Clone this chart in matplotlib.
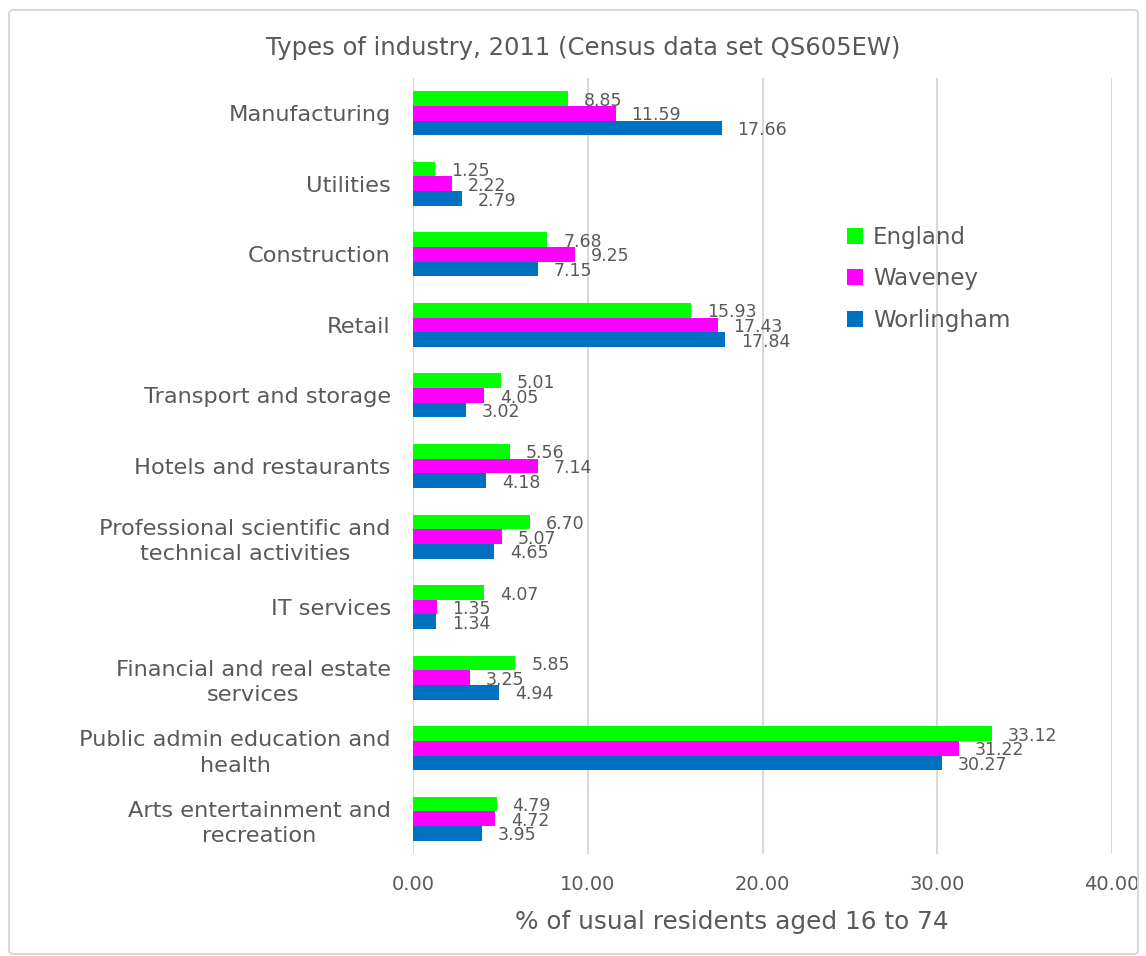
import numpy as np
import matplotlib
matplotlib.use("Agg")
import matplotlib.pyplot as plt
from matplotlib.patches import FancyBboxPatch

categories = ["Manufacturing", "Utilities", "Construction", "Retail",
              "Transport and storage", "Hotels and restaurants",
              "Professional scientific and\ntechnical activities", "IT services",
              "Financial and real estate\nservices",
              "Public admin education and\nhealth",
              "Arts entertainment and\nrecreation"]
england = [8.85, 1.25, 7.68, 15.93, 5.01, 5.56, 6.70, 4.07, 5.85, 33.12, 4.79]
waveney = [11.59, 2.22, 9.25, 17.43, 4.05, 7.14, 5.07, 1.35, 3.25, 31.22, 4.72]
worlingham = [17.66, 2.79, 7.15, 17.84, 3.02, 4.18, 4.65, 1.34, 4.94, 30.27, 3.95]
xticks = [0, 10, 20, 30, 40]

plt.rcParams['font.family'] = ['DejaVu Sans']
grey = '#595959'

fig = plt.figure(figsize=(11.46, 9.56), dpi=100)
ax = fig.add_axes([413/1146, 1-854/956, (1112-413)/1146, (854-78)/956])

# chart border
fig.patches.append(FancyBboxPatch((9/1146, 2/956), 1-17/1146, 1-12/956,
                                  boxstyle="round,pad=0,rounding_size=0.004",
                                  transform=fig.transFigure, fill=False,
                                  edgecolor='#d9d9d9', linewidth=1.5))

y = np.arange(len(categories))
h = 0.208
series = [(england, '#00ff00', 'England', -h),
          (waveney, '#ff00ff', 'Waveney', 0),
          (worlingham, '#0070c0', 'Worlingham', h)]
for vals, col, name, off in series:
    bars = ax.barh(y + off, vals, height=h, color=col, label=name, zorder=3)
    labels = ax.bar_label(bars, fmt='%.2f', padding=11.5, fontsize=12.5, color=grey)
    for t in labels:
        t.set_y(-1.5)  # excel puts them a touch lower

ax.set_ylim(len(categories) - 0.5, -0.5)
ax.set_xlim(0, 40)
ax.set_xticks(xticks)
ax.set_xticklabels([f'{t:.2f}' for t in xticks], fontsize=14, color=grey)
ax.set_yticks(y)
ax.set_yticklabels(categories, fontsize=16.2, color=grey,
                   multialignment='center', linespacing=1.35)
ax.tick_params(axis='both', length=0)
ax.tick_params(axis='y', pad=16)
ax.tick_params(axis='x', pad=15)
ax.grid(axis='x', color='#d9d9d9', linewidth=1.5, zorder=0)
for s in ax.spines.values():
    s.set_visible(False)

fig.text(583/1146, 1-48/956, 'Types of industry, 2011 (Census data set QS605EW)',
         ha='center', va='center', fontsize=17.5, color=grey)
fig.text(732/1146, 1-922/956, '% of usual residents aged 16 to 74',
         ha='center', va='center', fontsize=17.8, color=grey)

ax.legend(loc='upper left', bbox_to_anchor=((826-413)/(1112-413), 1-(205-78)/(854-78)),
          frameon=False, fontsize=16.5, labelcolor=grey, handlelength=0.7,
          handleheight=0.7, handletextpad=0.45, labelspacing=0.82)

fig.savefig('out.png', dpi=100)
